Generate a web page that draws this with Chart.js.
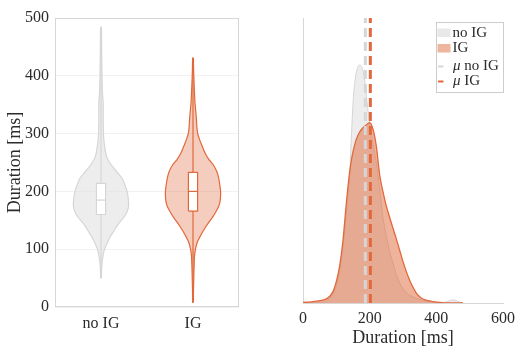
<!DOCTYPE html>
<html>
<head>
<meta charset="utf-8">
<script src="https://cdn.jsdelivr.net/npm/chart.js@4"></script>
<style>
  html, body { margin: 0; padding: 0; background: #fff; }
  #wrap { position: relative; width: 521px; height: 349px; }
  #violinBox { position: absolute; left: 0; top: 0; width: 260px; height: 349px; }
  #densityBox { position: absolute; left: 260px; top: 0; width: 261px; height: 349px; }
</style>
</head>
<body>
<div id="wrap">
  <div id="violinBox"><canvas id="violinChart" width="260" height="349"></canvas></div>
  <div id="densityBox"><canvas id="densityChart" width="261" height="349"></canvas></div>
</div>
<script>
// ================== 数据 ==================
const categories = ['no IG', 'IG'];
const yTicks = [0, 100, 200, 300, 400, 500];
const xTicks = [0, 200, 400, 600];

// violin: duration levels [ms] and relative density (peak = 1)
const noIgLevels = [50, 60, 75, 88, 100, 110, 122, 130, 140, 150, 157, 165, 174, 185, 200, 210, 221, 230, 238, 247, 255, 265, 278, 290, 302, 320, 340, 353, 370, 400, 440, 484];
const noIgDensity = [0.011, 0.018, 0.036, 0.071, 0.125, 0.214, 0.339, 0.446, 0.571, 0.732, 0.857, 0.946, 1, 0.993, 0.946, 0.875, 0.786, 0.643, 0.5, 0.357, 0.25, 0.179, 0.132, 0.1, 0.089, 0.079, 0.079, 0.079, 0.054, 0.036, 0.025, 0.014];
const igLevels = [8, 30, 50, 65, 80, 88, 100, 112, 120, 129, 138, 147, 155, 164, 172, 181, 190, 200, 210, 221, 230, 238, 247, 255, 265, 278, 290, 302, 314, 324, 340, 353, 370, 390, 410, 431];
const igDensity = [0.011, 0.018, 0.029, 0.036, 0.047, 0.054, 0.09, 0.155, 0.235, 0.336, 0.451, 0.578, 0.704, 0.819, 0.913, 0.975, 0.996, 1, 0.975, 0.939, 0.895, 0.83, 0.722, 0.578, 0.451, 0.336, 0.235, 0.162, 0.137, 0.126, 0.097, 0.072, 0.054, 0.036, 0.022, 0.011];

// box: q1, median, q3 / range: min, max
const noIgBox = [160, 185, 214];
const igBox = [166, 200, 233];
const noIgRange = [50, 484];
const igRange = [8, 431];

// right panel: kernel density (relative)
const kdeX = [0, 25, 50, 75, 90, 100, 110, 120, 130, 140, 145, 150, 155, 160, 170, 180, 185, 190, 195, 200, 210, 220, 230, 240, 250, 260, 270, 280, 290, 300, 310, 320, 330, 340, 350, 360, 375, 390, 410, 430, 440, 450, 460, 470, 480];
const noIgKde = [0, 0.001, 0.003, 0.01, 0.03, 0.06, 0.11, 0.19, 0.32, 0.45, 0.58, 0.70, 0.77, 0.81, 0.835, 0.815, 0.78, 0.73, 0.677, 0.63, 0.56, 0.49, 0.40, 0.30, 0.235, 0.18, 0.14, 0.10, 0.07, 0.05, 0.035, 0.027, 0.022, 0.016, 0.012, 0.008, 0.005, 0.003, 0.002, 0.004, 0.008, 0.011, 0.009, 0.003, 0];
const igKde = [0.002, 0.004, 0.008, 0.018, 0.04, 0.075, 0.13, 0.22, 0.35, 0.46, 0.50, 0.53, 0.555, 0.575, 0.60, 0.615, 0.62, 0.625, 0.63, 0.633, 0.61, 0.55, 0.45, 0.39, 0.34, 0.30, 0.262, 0.225, 0.185, 0.145, 0.11, 0.08, 0.055, 0.035, 0.022, 0.014, 0.008, 0.005, 0.002, 0, 0, 0, 0, 0, 0];
const meanValues = [187, 202];
const legendLabels = ['no IG', 'IG', 'no IG', 'IG'];

// ================== 样式 ==================
const SERIF = "'Liberation Serif', 'Times New Roman', serif";
const TEXT = '#2b2b2b';
const GRAY_EDGE = 'rgb(214,214,214)';
const GRAY_FILL = 'rgba(222,222,222,0.55)';
const ORANGE = 'rgb(226,104,58)';
const ORANGE_LIGHT = 'rgba(226,104,58,0.33)';
const ORANGE_FILL = 'rgba(224,104,56,0.5)';
const VIOLIN_HALF = 0.3;   // x units at density 1
const BOX_HALF = 0.05;

function violinPath(center, levels, density) {
  const right = levels.map((v, i) => ({ x: center + density[i] * VIOLIN_HALF, y: v }));
  const left = levels.map((v, i) => ({ x: center - density[i] * VIOLIN_HALF, y: v })).reverse();
  return right.concat(left, [right[0]]);
}

function boxPath(center, box) {
  return [
    { x: center - BOX_HALF, y: box[0] }, { x: center + BOX_HALF, y: box[0] },
    { x: center + BOX_HALF, y: box[2] }, { x: center - BOX_HALF, y: box[2] },
    { x: center - BOX_HALF, y: box[0] }
  ];
}

function violinSets(center, levels, density, box, range, edge, fill) {
  return [
    { data: violinPath(center, levels, density), showLine: true, fill: 'shape', backgroundColor: fill,
      borderColor: edge, borderWidth: 1.2, pointRadius: 0, tension: 0.25, order: 4 },
    { data: [{ x: center, y: range[0] }, { x: center, y: range[1] }], showLine: true,
      borderColor: edge, borderWidth: 1.2, pointRadius: 0, order: 3 },
    { data: boxPath(center, box), showLine: true, fill: 'shape', backgroundColor: '#fff',
      borderColor: edge, borderWidth: 1.2, pointRadius: 0, tension: 0, order: 2 },
    { data: [{ x: center - BOX_HALF, y: box[1] }, { x: center + BOX_HALF, y: box[1] }], showLine: true,
      borderColor: edge, borderWidth: 1.2, pointRadius: 0, order: 1 }
  ];
}

// ================== 边框 ==================
const frame = {
  id: 'frame',
  beforeDatasetsDraw(chart) {
    const { ctx, chartArea: a } = chart;
    ctx.save();
    ctx.strokeStyle = GRAY_EDGE;
    ctx.lineWidth = 1;
    ctx.strokeRect(a.left + 0.5, a.top + 0.5, a.width - 1, a.height - 1);
    ctx.restore();
  }
};

// ================== 图例 ==================
const legendBox = {
  id: 'legendBox',
  afterDraw(chart) {
    const ctx = chart.ctx;
    const x0 = 176, y0 = 22;
    ctx.save();
    ctx.fillStyle = '#fff';
    ctx.fillRect(x0 + 0.5, y0 + 0.5, 67, 70);
    ctx.strokeStyle = 'rgb(205,205,205)';
    ctx.lineWidth = 1;
    ctx.strokeRect(x0 + 0.5, y0 + 0.5, 67, 70);
    const rows = [33, 48.5, 66.5, 81.5];
    // patches
    ctx.fillStyle = 'rgb(232,232,232)';
    ctx.fillRect(x0 + 1.5, rows[0] - 4.5, 13, 8.5);
    ctx.fillStyle = 'rgb(238,182,158)';
    ctx.fillRect(x0 + 1.5, rows[1] - 4.5, 13, 8.5);
    // lines
    ctx.lineWidth = 2;
    ctx.strokeStyle = GRAY_EDGE;
    ctx.beginPath(); ctx.moveTo(x0 + 2, rows[2]); ctx.lineTo(x0 + 7.5, rows[2]); ctx.stroke();
    ctx.strokeStyle = ORANGE;
    ctx.beginPath(); ctx.moveTo(x0 + 2, rows[3]); ctx.lineTo(x0 + 7.5, rows[3]); ctx.stroke();
    // text
    ctx.fillStyle = TEXT;
    ctx.textBaseline = 'middle';
    ctx.font = '15px ' + SERIF;
    ctx.fillText(legendLabels[0], x0 + 16.5, rows[0]);
    ctx.fillText(legendLabels[1], x0 + 16.5, rows[1]);
    for (let i = 2; i < 4; i++) {
      ctx.font = 'italic 15px ' + SERIF;
      ctx.fillText('\u03bc', x0 + 17, rows[i]);
      const w = ctx.measureText('\u03bc ').width;
      ctx.font = '15px ' + SERIF;
      ctx.fillText(legendLabels[i], x0 + 17 + w, rows[i]);
    }
    ctx.restore();
  }
};

// ================== 小提琴图 ==================
new Chart(document.getElementById('violinChart'), {
  type: 'scatter',
  data: {
    datasets: [
      ...violinSets(1, noIgLevels, noIgDensity, noIgBox, noIgRange, GRAY_EDGE, GRAY_FILL),
      ...violinSets(2, igLevels, igDensity, igBox, igRange, ORANGE, ORANGE_LIGHT)
    ]
  },
  options: {
    responsive: false,
    animation: false,
    events: [],
    layout: { padding: { top: 18, right: 21, left: 0, bottom: 0 } },
    plugins: { legend: { display: false }, tooltip: { enabled: false } },
    scales: {
      x: {
        type: 'linear', min: 0.5, max: 2.5,
        afterBuildTicks: s => { s.ticks = categories.map((c, i) => ({ value: i + 1 })); },
        ticks: { callback: v => categories[v - 1], font: { family: SERIF, size: 16 }, color: TEXT, padding: 7 },
        grid: { display: false, drawTicks: false },
        border: { display: false },
        afterFit: s => { s.height = 42; }
      },
      y: {
        min: 0, max: 500,
        afterBuildTicks: s => { s.ticks = yTicks.map(v => ({ value: v })); },
        ticks: { font: { family: SERIF, size: 16 }, color: TEXT, padding: 6 },
        grid: { color: 'rgb(242,242,242)', drawTicks: false },
        border: { display: false },
        title: { display: true, text: 'Duration [ms]', font: { family: SERIF, size: 18 }, color: TEXT, padding: { top: 4, bottom: 0 } },
        afterFit: s => { s.width = 55; }
      }
    }
  },
  plugins: [frame]
});

// ================== 密度图 ==================
new Chart(document.getElementById('densityChart'), {
  type: 'scatter',
  data: {
    datasets: [
      { data: kdeX.map((x, i) => ({ x, y: noIgKde[i] })), showLine: true, fill: 'origin',
        backgroundColor: GRAY_FILL, borderColor: 'rgb(205,205,205)', borderWidth: 0.8,
        pointRadius: 0, cubicInterpolationMode: 'monotone', order: 4 },
      { data: kdeX.map((x, i) => ({ x, y: igKde[i] })), showLine: true, fill: 'origin',
        backgroundColor: ORANGE_FILL, borderColor: ORANGE, borderWidth: 1.3,
        pointRadius: 0, cubicInterpolationMode: 'monotone', order: 3 },
      { data: [{ x: meanValues[0], y: 0 }, { x: meanValues[0], y: 1 }], showLine: true,
        borderColor: GRAY_EDGE, borderWidth: 3, borderDash: [9, 5], pointRadius: 0, order: 2 },
      { data: [{ x: meanValues[1], y: 0 }, { x: meanValues[1], y: 1 }], showLine: true,
        borderColor: ORANGE, borderWidth: 3, borderDash: [9, 5], pointRadius: 0, order: 1 }
    ]
  },
  options: {
    responsive: false,
    animation: false,
    events: [],
    layout: { padding: { top: 18, right: 14, left: 0, bottom: 0 } },
    plugins: { legend: { display: false }, tooltip: { enabled: false } },
    scales: {
      x: {
        type: 'linear', min: 0, max: 600,
        afterBuildTicks: s => { s.ticks = xTicks.map(v => ({ value: v })); },
        ticks: { font: { family: SERIF, size: 16 }, color: TEXT, padding: 6 },
        grid: { display: false, drawTicks: false },
        border: { display: true, color: 'rgb(215,215,215)' },
        title: { display: true, text: 'Duration [ms]', font: { family: SERIF, size: 18 }, color: TEXT, padding: { top: 1, bottom: 0 } },
        afterFit: s => { s.height = 46; }
      },
      y: {
        min: 0, max: 1,
        ticks: { display: false },
        grid: { display: false, drawTicks: false },
        border: { display: true, color: 'rgb(215,215,215)' },
        afterFit: s => { s.width = 43; }
      }
    }
  },
  plugins: [legendBox]
});
</script>
</body>
</html>
